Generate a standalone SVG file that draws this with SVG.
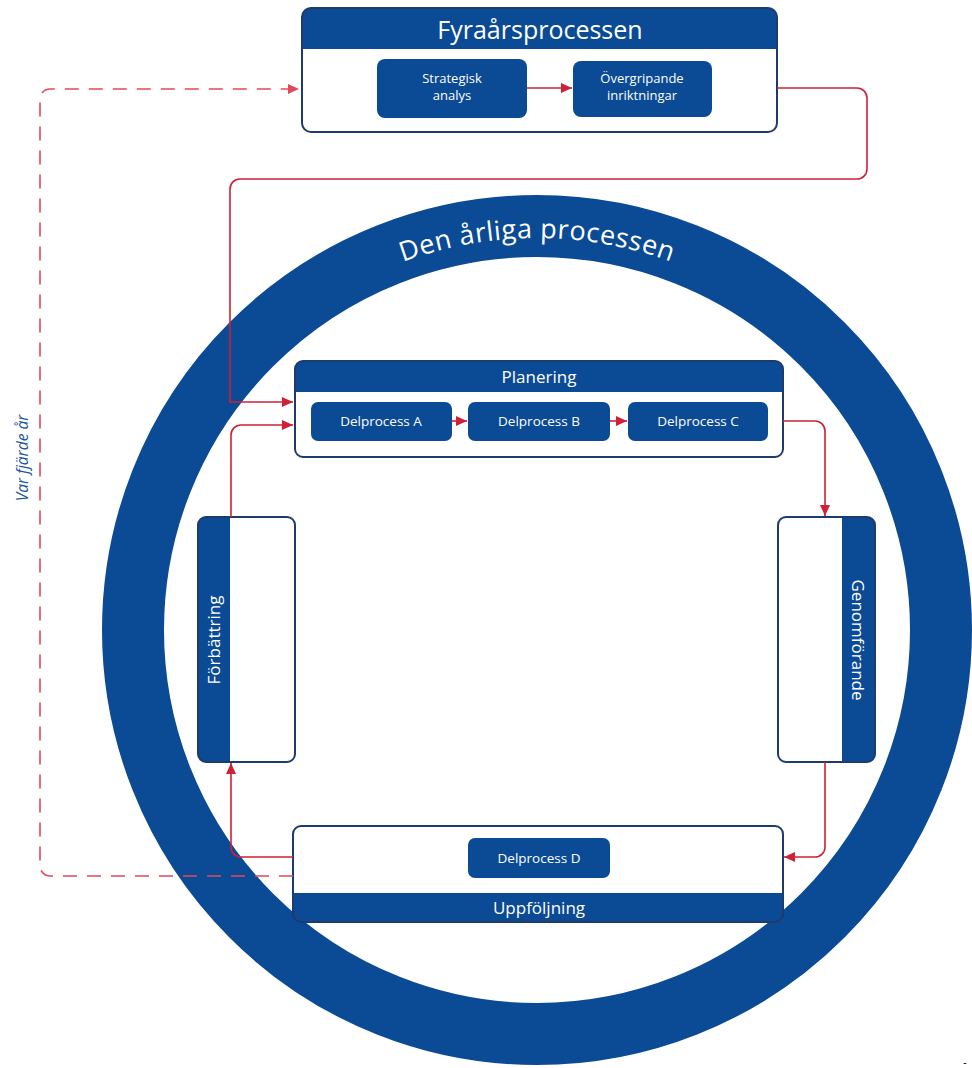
<svg xmlns="http://www.w3.org/2000/svg" width="972" height="1068" viewBox="0 0 972 1068">
<style>
.blue{fill:#0b4a94}
.frame{fill:none;stroke:#1f3b6b;stroke-width:2}
.wt{fill:#ffffff;font-family:"Open Sans","Liberation Sans",sans-serif;text-anchor:middle}
.hd{font-size:17px}
.sm{font-size:13.5px}
.xs{font-size:13px}
.line{fill:none;stroke:#cf2136;stroke-width:1.6}
.dash{fill:none;stroke:#df4a5c;stroke-width:1.6;stroke-dasharray:14 10}
</style>
<defs>
<marker id="ah" markerUnits="userSpaceOnUse" markerWidth="11" markerHeight="10" refX="11" refY="5" orient="auto">
<path d="M0,0 L11,5 L0,10 Z" fill="#cf2136"/>
</marker>
<marker id="ahd" markerUnits="userSpaceOnUse" markerWidth="11" markerHeight="10" refX="11" refY="5" orient="auto">
<path d="M0,0 L11,5 L0,10 Z" fill="#df4a5c"/>
</marker>
<path id="arcText" d="M145,630 A392,392 0 0 1 929,630"/>
</defs>
<rect width="972" height="1068" fill="#ffffff"/>

<g id="ring">
<circle cx="537" cy="630" r="404" fill="none" stroke="#0b4a94" stroke-width="62"/>
<text font-family="'Open Sans','Liberation Sans',sans-serif" font-size="27" fill="#ffffff" letter-spacing="0.5"><textPath href="#arcText" startOffset="50%" text-anchor="middle">Den årliga processen</textPath></text>
</g>

<g id="fyraar">
<rect x="302" y="8" width="475" height="124" rx="9" fill="#ffffff"/>
<path class="blue" d="M302,49 V17 A9,9 0 0 1 311,8 H768 A9,9 0 0 1 777,17 V49 Z"/>
<rect class="frame" x="302" y="8" width="475" height="124" rx="9"/>
<text class="wt" x="540" y="39" font-size="25">Fyraårsprocessen</text>
</g>
<g id="strategisk">
<rect class="blue" x="377" y="59" width="150" height="59" rx="8"/>
<text class="wt xs" x="452" y="83">Strategisk</text>
<text class="wt xs" x="452" y="100">analys</text>
</g>
<g id="overgripande">
<rect class="blue" x="573" y="61" width="139" height="56" rx="8"/>
<text class="wt xs" x="642" y="83">Övergripande</text>
<text class="wt xs" x="642" y="100">inriktningar</text>
</g>

<g id="planering">
<rect x="295" y="361" width="488" height="96" rx="8" fill="#ffffff"/>
<path class="blue" d="M295,392 V369 A8,8 0 0 1 303,361 H775 A8,8 0 0 1 783,369 V392 Z"/>
<rect class="frame" x="295" y="361" width="488" height="96" rx="8"/>
<text class="wt hd" x="539" y="383">Planering</text>
</g>
<g id="delA">
<rect class="blue" x="311" y="402" width="141" height="39" rx="7"/>
<text class="wt sm" x="381" y="426">Delprocess A</text>
</g>
<g id="delB">
<rect class="blue" x="468" y="402" width="142" height="39" rx="7"/>
<text class="wt sm" x="539" y="426">Delprocess B</text>
</g>
<g id="delC">
<rect class="blue" x="628" y="402" width="140" height="39" rx="7"/>
<text class="wt sm" x="698" y="426">Delprocess C</text>
</g>

<g id="forbattring">
<rect x="198" y="517" width="97" height="245" rx="8" fill="#ffffff"/>
<path class="blue" d="M230,517 H206 A8,8 0 0 0 198,525 V754 A8,8 0 0 0 206,762 H230 Z"/>
<rect class="frame" x="198" y="517" width="97" height="245" rx="8"/>
<text class="wt hd" transform="translate(220,640) rotate(-90)">Förbättring</text>
</g>

<g id="genomforande">
<rect x="778" y="517" width="97" height="245" rx="8" fill="#ffffff"/>
<path class="blue" d="M842,517 H867 A8,8 0 0 1 875,525 V754 A8,8 0 0 1 867,762 H842 Z"/>
<rect class="frame" x="778" y="517" width="97" height="245" rx="8"/>
<text class="wt hd" transform="translate(852,640) rotate(90)">Genomförande</text>
</g>

<g id="uppfoljning">
<rect x="293" y="826" width="490" height="96" rx="8" fill="#ffffff"/>
<path class="blue" d="M293,893 V914 A8,8 0 0 0 301,922 H775 A8,8 0 0 0 783,914 V893 Z"/>
<rect class="frame" x="293" y="826" width="490" height="96" rx="8"/>
<text class="wt hd" x="539" y="914">Uppföljning</text>
</g>
<g id="delD">
<rect class="blue" x="468" y="838" width="142" height="40" rx="7"/>
<text class="wt sm" x="539" y="863">Delprocess D</text>
</g>

<g id="connectors">
<path class="line" d="M527,88 H572" marker-end="url(#ah)"/>
<path class="line" d="M777,88 H857 A10,10 0 0 1 867,98 V169 A10,10 0 0 1 857,179 H240 A10,10 0 0 0 230,189 V402 H293" marker-end="url(#ah)"/>
<path class="line" d="M231,517 V435 A10,10 0 0 1 241,425 H293" marker-end="url(#ah)"/>
<path class="line" d="M452,421 H467" marker-end="url(#ah)"/>
<path class="line" d="M610,421 H627" marker-end="url(#ah)"/>
<path class="line" d="M783,421 H815 A10,10 0 0 1 825,431 V516" marker-end="url(#ah)"/>
<path class="line" d="M825,762 V847 A10,10 0 0 1 815,857 H784" marker-end="url(#ah)"/>
<path class="line" d="M293,857 H241 A10,10 0 0 1 231,847 V763" marker-end="url(#ah)"/>
<path class="dash" d="M293,876 H50 A10,10 0 0 1 40,866 V99 A10,10 0 0 1 50,89 H299" marker-end="url(#ahd)"/>
</g>

<text x="24" y="458" transform="rotate(-90 24 458)" font-family="'Open Sans','Liberation Sans',sans-serif" font-size="15.5" font-style="italic" fill="#1d56a0" text-anchor="middle" dominant-baseline="middle">Var fjärde år</text>
<text x="965" y="1066" font-family="'Liberation Sans',sans-serif" font-size="10" fill="#000000" text-anchor="middle">-</text>
</svg>
